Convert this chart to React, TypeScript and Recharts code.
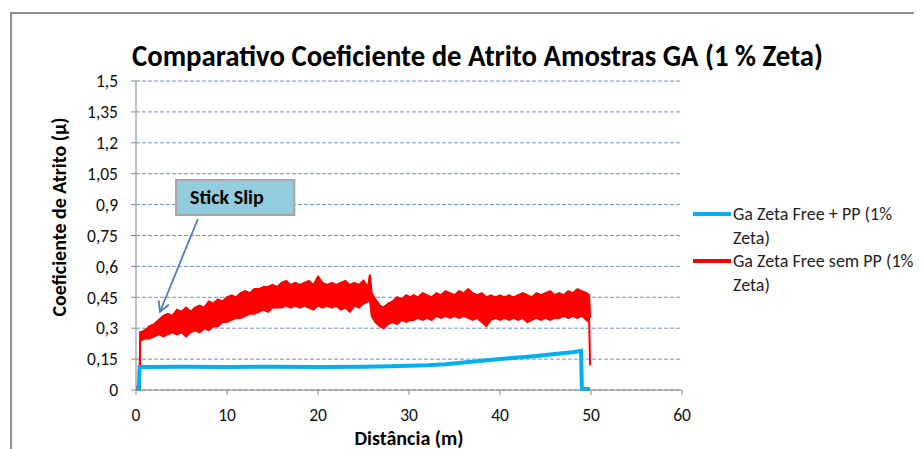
import {
  Area,
  CartesianGrid,
  ComposedChart,
  Line,
  ReferenceArea,
  ReferenceLine,
  XAxis,
  YAxis,
} from "recharts";

const FONT = "Carlito, Calibri, 'Open Sans', sans-serif";
const RED = "#FF0000";
const BLUE = "#00B0F0";
const AXIS = "#868686";
const GRID = "#6F93C7";

const TITLE = "Comparativo Coeficiente de Atrito Amostras GA (1 % Zeta)";
const X_TICKS = [0, 10, 20, 30, 40, 50, 60];
const Y_TICKS = [0, 0.15, 0.3, 0.45, 0.6, 0.75, 0.9, 1.05, 1.2, 1.35, 1.5];

const SERIES_NAMES = ["Ga Zeta Free + PP (1% Zeta)", "Ga Zeta Free sem PP (1% Zeta)"];

// Ga Zeta Free + PP
const blueDist = [0, 0.3, 0.4, 5, 10, 15, 20, 25, 28, 30, 32, 34, 36, 38, 40, 42, 44, 46, 48, 48.9, 49.0, 49.9];
const blueCof = [0.005, 0.005, 0.112, 0.113, 0.112, 0.113, 0.112, 0.113, 0.115, 0.118, 0.12, 0.125, 0.133, 0.142, 0.15, 0.158, 0.165, 0.175, 0.183, 0.19, 0.005, 0.005];

// Ga Zeta Free sem PP: noisy band, low / high envelope
const redDist = [
  0, 0.3, 0.4, 0.45, 0.5, 1, 1.5, 2, 2.5, 3, 3.5, 4, 4.5, 5, 5.5, 6, 6.5, 7, 7.5, 8, 8.5, 9, 9.5,
  10, 10.5, 11, 11.5, 12, 12.5, 13, 13.5, 14, 14.5, 15, 15.5, 16, 16.5, 17, 17.5, 18, 18.5, 19, 19.5,
  20, 20.5, 21, 21.5, 22, 22.5, 23, 23.5, 24, 24.5, 25, 25.5, 25.7, 25.9, 26.3, 26.8, 27.2, 27.7,
  28.2, 28.7, 29.2, 29.7, 30.2, 30.5, 31, 31.5, 32, 32.5, 33, 33.5, 34, 34.5, 35, 35.5, 36, 36.5,
  37, 37.5, 38, 38.5, 39, 39.5, 40, 40.5, 41, 41.5, 42, 42.5, 43, 43.5, 44, 44.5, 45, 45.5, 46,
  46.5, 47, 47.5, 48, 48.5, 49, 49.5, 49.8, 49.9,
];
const redLow = [
  0.005, 0.005, 0.005, 0.24, 0.24, 0.25, 0.25, 0.26, 0.27, 0.26, 0.27, 0.28, 0.27, 0.28, 0.26, 0.28, 0.29, 0.28, 0.3, 0.29, 0.31, 0.31, 0.33,
  0.33, 0.34, 0.35, 0.35, 0.36, 0.37, 0.37, 0.38, 0.39, 0.38, 0.4, 0.4, 0.4, 0.41, 0.4, 0.41, 0.4, 0.41, 0.4, 0.39,
  0.41, 0.4, 0.41, 0.4, 0.41, 0.39, 0.4, 0.38, 0.41, 0.4, 0.42, 0.43, 0.44, 0.36, 0.33, 0.31, 0.3, 0.32,
  0.33, 0.32, 0.34, 0.33, 0.34, 0.34, 0.35, 0.34, 0.35, 0.34, 0.36, 0.35, 0.36, 0.35, 0.36, 0.35, 0.36, 0.35,
  0.34, 0.35, 0.33, 0.31, 0.34, 0.35, 0.34, 0.35, 0.34, 0.35, 0.34, 0.35, 0.33, 0.34, 0.35, 0.34, 0.35, 0.34, 0.35,
  0.35, 0.36, 0.35, 0.36, 0.35, 0.36, 0.34, 0.33, 0.12,
];
const redHigh = [
  0.015, 0.015, 0.015, 0.28, 0.28, 0.29, 0.31, 0.32, 0.34, 0.36, 0.37, 0.36, 0.39, 0.38, 0.4, 0.38, 0.4, 0.41, 0.4, 0.43, 0.42, 0.44, 0.43,
  0.45, 0.46, 0.45, 0.47, 0.48, 0.47, 0.49, 0.49, 0.5, 0.5, 0.51, 0.5, 0.52, 0.53, 0.51, 0.52, 0.51, 0.52, 0.53, 0.51,
  0.55, 0.52, 0.51, 0.52, 0.51, 0.52, 0.53, 0.51, 0.52, 0.51, 0.53, 0.5, 0.56, 0.47, 0.44, 0.41, 0.4, 0.42,
  0.43, 0.45, 0.44, 0.46, 0.45, 0.46, 0.45, 0.47, 0.46, 0.45, 0.47, 0.46, 0.48, 0.47, 0.46, 0.48, 0.47, 0.49,
  0.47, 0.46, 0.47, 0.45, 0.46, 0.45, 0.46, 0.45, 0.46, 0.45, 0.46, 0.47, 0.46, 0.45, 0.47, 0.46, 0.47, 0.48, 0.46,
  0.47, 0.46, 0.48, 0.47, 0.49, 0.48, 0.47, 0.46, 0.35,
];

const blueData = blueDist.map((x, i) => ({ x, v: blueCof[i] }));
const redData = redDist.map((x, i) => ({ x, v: [redLow[i], redHigh[i]] }));

const fmt = (v: number) => String(v).replace(".", ",");

function Arrow(props: any) {
  const { x1, y1, x2, y2 } = props;
  return (
    <g>
      <defs>
        <marker id="ah" markerWidth="14" markerHeight="14" refX="11" refY="7" orient="auto" markerUnits="userSpaceOnUse">
          <path d="M1,1.5 L11,7 L1,12.5" fill="none" stroke="#4A7EBB" strokeWidth={1.8} />
        </marker>
      </defs>
      <line x1={x1} y1={y1} x2={x2} y2={y2} stroke="#4A7EBB" strokeWidth={1.8} markerEnd="url(#ah)" />
    </g>
  );
}

export default function App() {
  return (
    <div style={{ position: "relative", width: 914, height: 441, overflow: "hidden", background: "#fff" }}>
      <div style={{ position: "absolute", left: -8, top: -8, width: 922, height: 449, fontFamily: FONT }}>
        <div style={{ position: "absolute", left: 10, top: 12, width: 1000, height: 500, border: "2px solid #8E8E8E" }} />
        <ComposedChart
          width={922}
          height={449}
          margin={{ top: 81, right: 240, bottom: 0, left: 56 }}
          style={{ position: "absolute", left: 0, top: 0 }}
        >
          <CartesianGrid vertical={false} stroke={GRID} strokeDasharray="4 2" />
          <XAxis
            type="number"
            dataKey="x"
            domain={[0, 60]}
            ticks={X_TICKS}
            height={59}
            tickSize={5}
            tickMargin={14}
            stroke={AXIS}
            tick={{ fill: "#111", fontSize: 17.5, fontFamily: FONT }}
            label={{ value: "Distância (m)", position: "insideBottom", offset: 4, fill: "#000", fontSize: 20, fontWeight: 700, fontFamily: FONT }}
          />
          <YAxis
            type="number"
            domain={[0, 1.5]}
            ticks={Y_TICKS}
            width={80}
            tickSize={5}
            tickMargin={13}
            stroke={AXIS}
            tickFormatter={fmt}
            tick={{ fill: "#111", fontSize: 17.5, fontFamily: FONT }}
            label={{
              content: () => (
                <text x={59} y={217} transform="rotate(-90 59 217)" textAnchor="middle" dominantBaseline="central" fontSize={20} fontWeight={700} fontFamily={FONT} fill="#000">
                  Coeficiente de Atrito (µ)
                </text>
              ),
            }}
          />
          <Area
            data={redData}
            dataKey="v"
            type="linear"
            stroke={RED}
            strokeWidth={2}
            fill={RED}
            fillOpacity={1}
            isAnimationActive={false}
            name={SERIES_NAMES[1]}
          />
          <Line
            data={blueData}
            dataKey="v"
            type="linear"
            stroke={BLUE}
            strokeWidth={4}
            dot={false}
            isAnimationActive={false}
            name={SERIES_NAMES[0]}
          />
          <ReferenceArea
            x1={4.4}
            x2={17.4}
            y1={0.85}
            y2={1.02}
            fill="#93CDDD"
            fillOpacity={1}
            stroke="#A6A6A6"
            strokeWidth={2}
            label={{ value: "Stick Slip", position: "insideLeft", offset: 14, fill: "#000", fontSize: 20, fontWeight: 700, fontFamily: FONT }}
          />
          <ReferenceLine
            segment={[
              { x: 6.8, y: 0.83 },
              { x: 2.64, y: 0.38 },
            ]}
            shape={Arrow}
          />
        </ComposedChart>
        <svg width={922} height={449} style={{ position: "absolute", left: 0, top: 0, pointerEvents: "none" }}>
          <text x={132} y={66} fontSize={31} fontWeight={700} fontFamily={FONT} textLength={691} lengthAdjust="spacingAndGlyphs" fill="#000">
            {TITLE}
          </text>
        </svg>
        {SERIES_NAMES.map((n, i) => (
          <div key={n} style={{ position: "absolute", left: 693, top: 203 + i * 47, display: "flex", alignItems: "flex-start" }}>
            <div style={{ width: 38, height: 4, background: i === 0 ? BLUE : RED, marginTop: 9 }} />
            <div style={{ width: 190, fontSize: 18, lineHeight: "23.5px", marginLeft: 2, color: "#222" }}>{n}</div>
          </div>
        ))}
      </div>
    </div>
  );
}
